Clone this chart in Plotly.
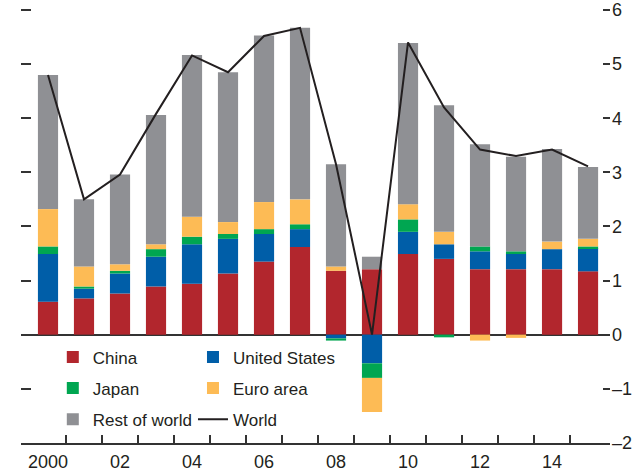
import plotly.graph_objects as go

years = list(range(2000, 2016))
china = [0.61, 0.67, 0.76, 0.89, 0.94, 1.13, 1.35, 1.62, 1.18, 1.21, 1.49, 1.40, 1.21, 1.21, 1.21, 1.17]
united_states = [0.88, 0.18, 0.37, 0.55, 0.73, 0.64, 0.51, 0.33, -0.07, -0.53, 0.41, 0.27, 0.33, 0.28, 0.37, 0.43]
japan = [0.14, 0.04, 0.05, 0.14, 0.14, 0.09, 0.09, 0.09, -0.04, -0.27, 0.23, -0.05, 0.09, 0.05, 0.00, 0.03]
euro_area = [0.69, 0.37, 0.12, 0.09, 0.37, 0.22, 0.50, 0.46, 0.08, -0.63, 0.28, 0.23, -0.11, -0.06, 0.14, 0.14]
rest_of_world = [2.48, 1.24, 1.66, 2.39, 2.99, 2.77, 3.08, 3.17, 1.89, 0.23, 2.98, 2.34, 1.89, 1.75, 1.71, 1.33]
world = [4.80, 2.50, 2.96, 4.08, 5.16, 4.85, 5.52, 5.67, 3.15, 0.00, 5.40, 4.20, 3.42, 3.30, 3.42, 3.11]

x_label_vals = [2000, 2002, 2004, 2006, 2008, 2010, 2012, 2014]
x_label_text = ["2000", "02", "04", "06", "08", "10", "12", "14"]
y_ticks = [-2, -1, 0, 1, 2, 3, 4, 5, 6]
y_tick_text = ["\u20132", "\u20131", "0", "1", "2", "3", "4", "5", "6"]

FONT = "Liberation Sans, Arial, sans-serif"
TXT = "#231f20"
AX = "#333333"

fig = go.Figure()
series = [
    ("China", china, "#b2262d", "legend"),
    ("United States", united_states, "#005ea8", "legend2"),
    ("Japan", japan, "#00a651", "legend"),
    ("Euro area", euro_area, "#fdbb55", "legend2"),
    ("Rest of world", rest_of_world, "#8f9094", "legend"),
]
for name, vals, color, leg in series:
    fig.add_trace(go.Bar(x=years, y=vals, name=name, width=0.56,
                         marker=dict(color=color, line=dict(width=0)),
                         legend=leg, legendgroup=name))
fig.add_trace(go.Scatter(x=years, y=world, name="World", mode="lines",
                         line=dict(color="#231f20", width=2),
                         legend="legend2", legendgroup="World"))
# helper trace so the overlay axes are drawn
fig.add_trace(go.Scatter(x=[2000], y=[0], xaxis="x2", yaxis="y2", mode="markers",
                         marker=dict(opacity=0), showlegend=False, hoverinfo="skip"))

xr = [1999.25, 2015.61]
yr = [-2.003, 6.037]
legend_common = dict(font=dict(family=FONT, size=17, color=TXT), bgcolor="rgba(0,0,0,0)",
                     tracegroupgap=6, yanchor="top", xanchor="left", itemwidth=30)
fig.update_layout(
    width=642, height=473,
    margin=dict(l=21, r=32, t=8, b=30, autoexpand=False),
    paper_bgcolor="white", plot_bgcolor="white",
    barmode="relative",
    font=dict(family=FONT, size=18, color=TXT),
    xaxis=dict(range=xr, tickvals=x_label_vals, ticktext=x_label_text, ticks="",
               showgrid=False, zeroline=False, showline=False, automargin=False,
               tickfont=dict(family=FONT, size=18, color=TXT), ticklabelstandoff=6),
    xaxis2=dict(range=xr, overlaying="x", anchor="y2", side="bottom", automargin=False,
                tickvals=[y + 0.5 for y in years[:-1]], ticks="inside", ticklen=8, tickwidth=2,
                tickcolor=AX, showticklabels=False, showgrid=False, zeroline=False,
                showline=True, linecolor=AX, linewidth=2),
    yaxis=dict(range=yr, tickvals=y_ticks, ticks="inside", ticklen=10, tickwidth=2,
               tickcolor=AX, showticklabels=False, showgrid=False, showline=False,
               automargin=False,
               zeroline=True, zerolinecolor=AX, zerolinewidth=2),
    yaxis2=dict(range=yr, overlaying="y", side="right", anchor="x2", automargin=False,
                tickvals=y_ticks, ticktext=y_tick_text, ticks="inside", ticklen=7,
                tickwidth=2, tickcolor=AX,
                showgrid=False, zeroline=False, showline=False,
                tickfont=dict(family=FONT, size=18, color=TXT), ticklabelstandoff=1),
    legend=dict(x=0.054, y=0.238, **legend_common),
    legend2=dict(x=0.292, y=0.238, **legend_common),
)
fig.write_html("out.html", config={"displayModeBar": False},
               post_script="document.body.style.margin='0';")
